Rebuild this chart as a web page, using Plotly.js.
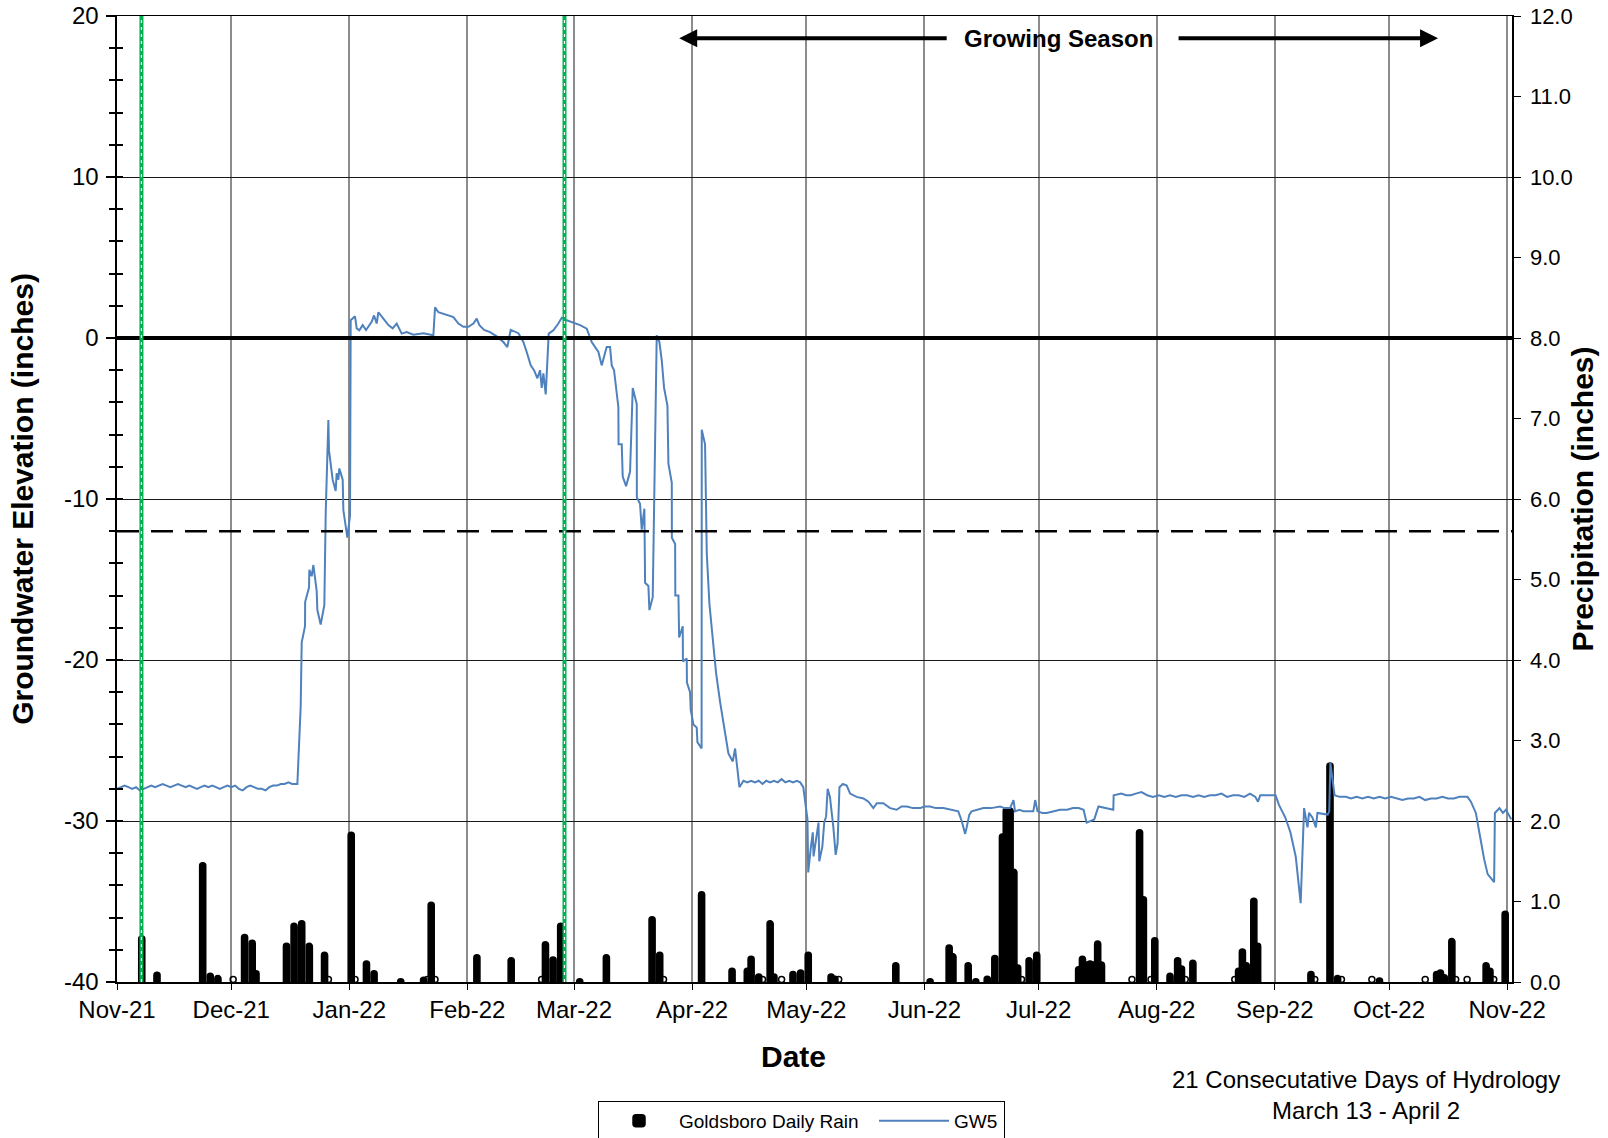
<!DOCTYPE html>
<html>
<head>
<meta charset="utf-8">
<script src="https://cdn.plot.ly/plotly-3.0.1.min.js"></script>
<style>
  html, body { margin: 0; padding: 0; background: #fff; }
  #chart { width: 1608px; height: 1138px; }
</style>
</head>
<body>
<div id="chart"></div>
<script>
// ---------------- DATA ----------------
// Goldsboro daily rain (inches) by date
const rainDates = [
  '2021-11-07','2021-11-11','2021-11-23','2021-11-25','2021-11-27',
  '2021-12-04','2021-12-06','2021-12-07','2021-12-15','2021-12-17','2021-12-19','2021-12-21','2021-12-25',
  '2022-01-01','2022-01-05','2022-01-07','2022-01-14','2022-01-20','2022-01-22',
  '2022-02-03','2022-02-12','2022-02-21','2022-02-23','2022-02-25',
  '2022-03-02','2022-03-09','2022-03-21','2022-03-23',
  '2022-04-03','2022-04-11','2022-04-15','2022-04-16','2022-04-18','2022-04-21','2022-04-22','2022-04-27','2022-04-29',
  '2022-05-01','2022-05-07','2022-05-08','2022-05-24',
  '2022-06-02','2022-06-07','2022-06-08','2022-06-12','2022-06-14','2022-06-17','2022-06-19','2022-06-21','2022-06-22','2022-06-23','2022-06-24','2022-06-25','2022-06-28','2022-06-30',
  '2022-07-11','2022-07-12','2022-07-13','2022-07-14','2022-07-15','2022-07-16','2022-07-17','2022-07-27','2022-07-28','2022-07-31',
  '2022-08-04','2022-08-06','2022-08-07','2022-08-10','2022-08-22','2022-08-23','2022-08-24','2022-08-26','2022-08-27',
  '2022-09-10','2022-09-15','2022-09-17','2022-09-28',
  '2022-10-13','2022-10-14','2022-10-15','2022-10-17','2022-10-26','2022-10-27','2022-10-31'
];
const rainInches = [
  0.57,0.12,1.48,0.11,0.08,
  0.59,0.52,0.14,0.48,0.73,0.76,0.48,0.37,
  1.86,0.26,0.14,0.04,0.06,0.99,
  0.34,0.30,0.50,0.31,0.73,
  0.04,0.34,0.81,0.37,
  1.12,0.17,0.17,0.32,0.10,0.76,0.10,0.13,0.15,
  0.37,0.10,0.07,0.24,
  0.04,0.46,0.35,0.24,0.04,0.07,0.33,1.84,2.16,2.16,1.40,0.21,0.30,0.37,
  0.19,0.32,0.25,0.26,0.25,0.51,0.25,1.89,1.06,0.55,
  0.11,0.30,0.20,0.27,0.17,0.41,0.24,1.04,0.48,
  0.13,2.72,0.08,0.05,
  0.13,0.15,0.09,0.54,0.24,0.17,0.88
];
// days with a trace of rain (plotted as small open circles at 0)
const traceDates = [
  '2021-12-01','2021-12-26','2022-01-02','2022-01-21','2022-01-23','2022-02-20',
  '2022-03-24','2022-04-19','2022-04-24','2022-05-09','2022-06-26','2022-07-25',
  '2022-07-30','2022-08-08','2022-08-21','2022-09-11','2022-09-18','2022-09-26',
  '2022-10-10','2022-10-18','2022-10-21','2022-10-28'
];

// GW5 groundwater elevation (inches); time as days after 2021-11-01
const gwDay = [
  0,1,2,3,4,5,6,7,8,9,10,11,12,13,14,15,16,17,18,19,20,21,22,23,24,25,26,27,28,29,30,
  31,32,33,34,35,36,37,38,39,40,41,42,43,44,45,46,47.36,
  48.23,48.5,49.37,49.4,50.42,50.5,51.12,51.56,52.43,52.61,53.48,54.44,54.8,55.5,55.67,
  56.63,57.42,57.68,58.12,58.38,59.26,59.44,60.49,61.19,61.36,62.5,62.94,63.64,64.51,
  65.39,66.87,67.49,68.19,68.63,69.94,71.26,72.39,73.44,74.75,76.06,77.82,80.45,83.07,
  83.51,84.39,86.57,88.33,89.64,90.95,92.26,93.58,94.45,95.15,96.38,97.95,99.7,101.45,
  102.5,103.37,105.39,106.7,107.58,108.63,109.5,110.38,111.08,111.52,111.96,112.57,
  113.36,114.58,115.89,116.77,118.08,120.27,121.59,123.34,124.65,126.4,127.27,128.58,
  129.46,129.9,130.51,131.65,131.7,132.53,132.79,133.67,134.72,135.42,136.47,136.5,
  137.34,137.78,138.48,138.66,139.53,139.8,140.67,141.72,142.42,143.04,143.65,144.53,
  144.79,145.67,145.7,146.55,146.6,147.42,147.6,148.55,148.6,149.6,149.65,150.47,150.65,
  151.35,152.22,152.4,153.5,153.54,154.41,154.86,155.55,156.6,157.3,158.35,159.4,160.54,
  161.68,162.3,163.43,
  164.5,165.5,166.5,167.5,168.5,169.5,170.5,171.5,172.5,173.5,174.5,175.5,176.5,177.5,
  178.5,179.4,180.2,181.3,181.5,182.2,182.7,182.9,184.2,184.4,185.2,185.7,186.2,186.6,
  187.2,188.1,188.7,189.2,189.7,190.6,191.6,192.5,194.2,196.0,197.3,198.6,199.5,201.2,
  203.0,204.7,206,207.4,209,210.9,212,213.5,215,217.0,219,220.9,221.8,222.7,223.1,223.8,
  224.4,226,227.5,229.5,231.9,233,234.5,235.4,235.8,237,238.0,239.5,240.6,241.1,241.7,
  243,244.1,246,247.6,249.5,251,252.5,253.8,254.6,255.5,256.6,257.7,259.5,261.6,261.7,
  263.7,265,266.2,267.5,269,270.5,272,273.5,275,276.5,278,279.5,281,282.5,284,285.5,287,
  288.5,290,291.5,293,294.5,296,297.5,298.9,299.6,300.2,302,304.2,305.1,306.8,308.1,
  309.5,310.8,311.7,312.6,313.0,313.9,314.8,315.2,317.9,318.3,318.6,319.7,321,322.7,324,
  325.5,327,328.5,330,331.5,333,334.5,336,337.5,339,340.5,342,343.5,345,346.5,348,349.5,
  351,352.5,354,354.6,355.5,356.8,357.7,358.6,359.0,359.9,361.6,361.8,363.0,363.9,364.7,
  366.1
];
const gwLevel = [
  -28.0,-27.9,-27.8,-27.9,-28.0,-27.9,-28.1,-28.0,-27.9,-27.8,-27.9,-27.8,-27.7,-27.8,-27.9,-27.8,
  -27.7,-27.8,-27.9,-27.8,-27.9,-28.0,-27.9,-27.8,-27.9,-27.8,-27.9,-28.0,-27.9,-27.8,-27.9,
  -27.8,-28.0,-28.1,-27.9,-27.8,-27.9,-28.0,-28.0,-28.1,-27.9,-27.8,-27.8,-27.7,-27.7,-27.6,-27.7,-27.7,
  -22.9,-18.9,-17.9,-16.4,-15.5,-14.4,-14.8,-14.1,-15.7,-16.9,-17.8,-16.6,-10.9,-5.1,-7.0,
  -8.8,-9.5,-8.4,-8.8,-8.1,-8.8,-10.7,-12.4,-11.0,1.1,1.35,0.6,0.48,0.8,
  0.5,1.0,1.4,0.9,1.6,1.2,0.8,0.6,0.9,0.27,0.37,0.2,0.3,0.17,
  1.9,1.6,1.45,1.3,0.9,0.7,0.7,0.9,1.2,0.8,0.5,0.37,0.1,-0.25,
  -0.56,0.5,0.3,-0.25,-0.87,-1.7,-2.0,-2.5,-2.0,-3.1,-2.2,-3.5,
  0.27,0.48,0.9,1.26,1.1,0.93,0.8,0.58,-0.25,-0.87,-1.7,-0.56,
  -0.56,-1.7,-2.0,-4.3,-6.6,-6.6,-8.6,-9.2,-8.3,-3.1,-4.1,-9.9,
  -10.3,-11.9,-10.6,-15.2,-15.4,-16.9,-16.1,0.17,-0.25,-1.4,-3.1,-4.2,
  -7.8,-9.0,-12.4,-12.8,-16.0,-16.0,-18.6,-17.9,-20.1,-19.9,-21.4,-22.0,-23.1,
  -24.0,-24.2,-25.1,-25.5,-5.7,-6.6,-13.4,-16.5,-19.1,-20.8,-22.6,-24.1,-25.8,
  -26.3,-25.5,-27.9,
  -27.5,-27.6,-27.5,-27.6,-27.5,-27.7,-27.5,-27.6,-27.5,-27.6,-27.4,-27.6,-27.5,-27.6,
  -27.5,-27.6,-27.9,-29.9,-33.2,-31.6,-30.7,-32.2,-30.1,-32.5,-31.6,-30.1,-29.7,-28.0,
  -28.5,-30.4,-32.1,-31.4,-27.9,-27.7,-27.8,-28.3,-28.5,-28.6,-28.8,-29.2,-28.9,-28.9,
  -29.2,-29.3,-29.1,-29.1,-29.2,-29.2,-29.1,-29.1,-29.2,-29.2,-29.3,-29.4,-30.0,-30.8,-30.4,-29.6,
  -29.4,-29.3,-29.2,-29.2,-29.1,-29.2,-29.2,-28.7,-29.4,-29.3,-29.4,-29.4,-29.4,-28.7,-29.4,
  -29.5,-29.5,-29.4,-29.3,-29.3,-29.2,-29.2,-29.3,-30.1,-30.0,-29.9,-29.1,-29.2,-29.3,-28.4,
  -28.3,-28.4,-28.4,-28.3,-28.2,-28.4,-28.5,-28.4,-28.5,-28.4,-28.5,-28.4,-28.4,-28.5,-28.4,-28.5,-28.4,
  -28.4,-28.3,-28.5,-28.4,-28.4,-28.5,-28.3,-28.5,-28.8,-28.4,-28.4,-28.4,-29.0,-29.8,-30.7,
  -32.2,-35.1,-29.2,-30.4,-29.5,-29.8,-30.4,-29.5,-29.6,-29.4,-26.4,-28.4,-28.5,-28.5,-28.6,
  -28.5,-28.6,-28.5,-28.6,-28.5,-28.6,-28.5,-28.6,-28.7,-28.6,-28.6,-28.5,-28.7,-28.6,-28.6,-28.5,-28.6,
  -28.6,-28.5,-28.5,-28.5,-28.8,-29.5,-30.7,-31.9,-32.4,-33.3,-33.8,-29.5,-29.2,-29.5,-29.3,
  -29.9
];

// axis tick values / labels
const gwTickVals = [-40, -30, -20, -10, 0, 10, 20];
const gwTickText = ['-40', '-30', '-20', '-10', '0', '10', '20'];

// reference levels (inches) and markers
const surfaceLevel = 0;
const criterionLevel = -12;
const hydrologyMarkers = ['2021-11-07 10:00', '2022-02-26 12:00'];
const xStart = '2021-11-01';
const xEnd = '2022-11-02 07:00';

// ---------------- BUILD ----------------
const BASE = Date.UTC(2021, 10, 1);
function dayToDate(d) {
  return new Date(BASE + d * 864e5).toISOString().slice(0, 19).replace('T', ' ');
}
const FONT = 'Liberation Sans, Arial, sans-serif';

const rainTrace = {
  type: 'bar',
  name: 'Goldsboro Daily Rain',
  x: rainDates.map(d => d + ' 12:00'),
  y: rainInches,
  width: 1.6 * 864e5,
  marker: { color: '#000', line: { color: '#000', width: 1.5 }, cornerradius: 3 },
  yaxis: 'y',
  legendwidth: 190,
  hoverinfo: 'x+y'
};
const traceDots = {
  type: 'scatter',
  mode: 'markers',
  x: traceDates.map(d => d + ' 12:00'),
  y: traceDates.map(() => 0.03),
  marker: { symbol: 'circle-open', size: 6, color: '#000', line: { width: 1.5, color: '#000' } },
  yaxis: 'y',
  showlegend: false,
  hoverinfo: 'x'
};
const gwTrace = {
  type: 'scatter',
  mode: 'lines',
  name: 'GW5',
  x: gwDay.map(dayToDate),
  y: gwLevel,
  line: { color: '#4F81BD', width: 2 },
  yaxis: 'y2',
  legendwidth: 45
};

const shapes = [
  { type: 'line', xref: 'paper', x0: 0, x1: 1, yref: 'y2', y0: surfaceLevel, y1: surfaceLevel,
    line: { color: '#000', width: 4 } },
  { type: 'line', xref: 'paper', x0: 0, x1: 1, yref: 'y2', y0: criterionLevel, y1: criterionLevel,
    line: { color: '#000', width: 2.5, dash: '22px,12px' } }
];
hydrologyMarkers.forEach(d => {
  shapes.push({ type: 'line', xref: 'x', x0: d, x1: d, yref: 'paper', y0: 0, y1: 1,
    line: { color: '#00B050', width: 4 } });
  shapes.push({ type: 'line', xref: 'x', x0: d, x1: d, yref: 'paper', y0: 0, y1: 1,
    line: { color: '#ffffff', width: 1.2, dash: '3px,4px' } });
});

const annotations = [
  { xref: 'paper', yref: 'paper', x: 0.6746, y: 0.977, xanchor: 'center', yanchor: 'middle',
    text: '<b>Growing Season</b>',
    showarrow: false, font: { family: FONT, size: 24, color: '#000' } },
  { xref: 'paper', yref: 'paper', x: 0.403, y: 0.977, ax: 269, ay: 0, text: '',
    showarrow: true, arrowhead: 2, arrowsize: 0.9, arrowwidth: 4, arrowcolor: '#000' },
  { xref: 'paper', yref: 'paper', x: 0.947, y: 0.977, ax: -261, ay: 0, text: '',
    showarrow: true, arrowhead: 2, arrowsize: 0.9, arrowwidth: 4, arrowcolor: '#000' },
  { xref: 'paper', yref: 'paper', x: 0.4846, y: -0.0776, xanchor: 'center', yanchor: 'middle',
    text: '<b>Date</b>', showarrow: false, font: { family: FONT, size: 30, color: '#000' } },
  { xref: 'paper', yref: 'paper', x: 0.895, y: -0.1165, xanchor: 'center', yanchor: 'middle',
    text: '21 Consecutative Days of Hydrology<br>March 13 - April 2',
    showarrow: false, align: 'center', font: { family: FONT, size: 24, color: '#000' } }
];

const layout = {
  width: 1608, height: 1138,
  margin: { l: 117, r: 96, t: 16, b: 156, autoexpand: false },
  paper_bgcolor: '#fff', plot_bgcolor: '#fff',
  font: { family: FONT, color: '#000' },
  barmode: 'overlay',
  showlegend: true,
  legend: {
    orientation: 'h', xref: 'container', yref: 'container',
    x: 0.3719, xanchor: 'left', y: 0.0325, yanchor: 'top',
    itemwidth: 70,
    bordercolor: '#000', borderwidth: 1, bgcolor: '#fff',
    font: { family: FONT, size: 19, color: '#000' }, traceorder: 'normal'
  },
  xaxis: {
    type: 'date', range: [xStart, xEnd],
    tick0: xStart, dtick: 'M1', tickformat: '%b-%y',
    showgrid: true, gridcolor: '#8c8c8c', gridwidth: 2,
    showline: true, linecolor: '#000', linewidth: 1.5, mirror: true,
    ticks: 'outside', ticklen: 6, tickcolor: '#000',
    tickfont: { family: FONT, size: 24, color: '#000' },
    zeroline: false
  },
  yaxis: {
    range: [0, 12], side: 'right', dtick: 1, tickformat: '.1f',
    showgrid: false, zeroline: false,
    showline: true, linecolor: '#000', linewidth: 1.5,
    ticks: 'outside', ticklen: 7, tickcolor: '#000',
    ticklabelstandoff: 5,
    tickfont: { family: FONT, size: 22, color: '#000' },
    title: { text: '<b>Precipitation (inches)</b>', font: { family: FONT, size: 30, color: '#000' }, standoff: 0 }
  },
  yaxis2: {
    overlaying: 'y', side: 'left', range: [-40, 20],
    tickmode: 'array', tickvals: gwTickVals, ticktext: gwTickText,
    showgrid: true, gridcolor: '#1a1a1a', gridwidth: 1, zeroline: false,
    showline: true, linecolor: '#000', linewidth: 2.5,
    ticks: 'outside', ticklen: 9, tickcolor: '#000', tickwidth: 2,
    minor: { dtick: 2, ticks: 'outside', ticklen: 6, tickcolor: '#000', tickwidth: 2, showgrid: false },
    ticklabelstandoff: 2,
    tickfont: { family: FONT, size: 24, color: '#000' },
    title: { text: '<b>Groundwater Elevation (inches)</b>', font: { family: FONT, size: 30, color: '#000' }, standoff: 22 }
  },
  yaxis3: {
    overlaying: 'y', side: 'left', range: [-40, 20], dtick: 2,
    showgrid: false, zeroline: false, showline: false, showticklabels: false,
    ticks: 'inside', ticklen: 6, tickcolor: '#000', tickwidth: 2
  },
  shapes: shapes,
  annotations: annotations
};

const dummy3 = { type: 'scatter', x: [], y: [], yaxis: 'y3', showlegend: false, hoverinfo: 'skip' };

Plotly.newPlot('chart', [rainTrace, traceDots, gwTrace, dummy3], layout, { displayModeBar: false, staticPlot: true });
</script>
</body>
</html>
